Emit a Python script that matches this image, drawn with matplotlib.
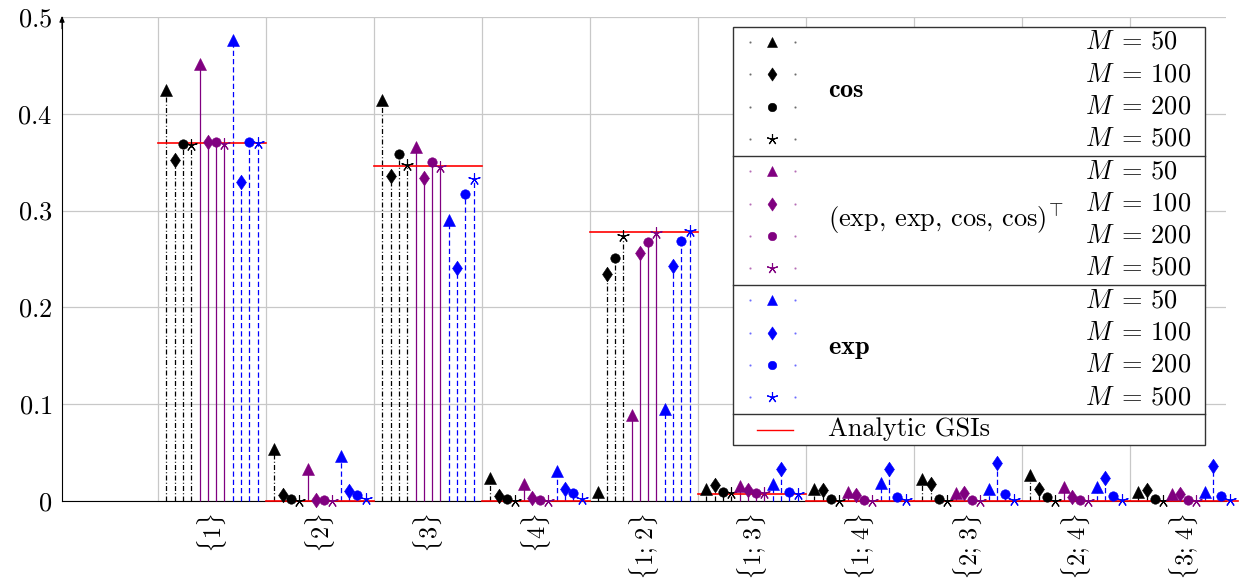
import matplotlib
matplotlib.use("Agg")
import matplotlib.pyplot as plt
from matplotlib.lines import Line2D
from matplotlib.patches import Rectangle
from matplotlib.path import Path
import numpy as np

plt.rcParams['mathtext.fontset'] = 'cm'
plt.rcParams['font.family'] = ['cmr10', 'DejaVu Serif']
plt.rcParams['axes.unicode_minus'] = False

categories = [r'$\{1\}$', r'$\{2\}$', r'$\{3\}$', r'$\{4\}$', r'$\{1;\,2\}$', r'$\{1;\,3\}$',
              r'$\{1;\,4\}$', r'$\{2;\,3\}$', r'$\{2;\,4\}$', r'$\{3;\,4\}$']

cos_m50 = [0.425, 0.054, 0.414, 0.024, 0.009, 0.012, 0.012, 0.023, 0.027, 0.009]
cos_m100 = [0.352, 0.006, 0.336, 0.0055, 0.235, 0.017, 0.011, 0.018, 0.012, 0.011]
cos_m200 = [0.369, 0.002, 0.358, 0.002, 0.251, 0.0096, 0.002, 0.002, 0.004, 0.002]
cos_m500 = [0.368, 0.0003, 0.347, 0.0003, 0.274, 0.008, 0.0003, 0.0003, 0.0003, 0.0003]
mix_m50 = [0.451, 0.033, 0.366, 0.018, 0.089, 0.016, 0.0096, 0.008, 0.014, 0.0072]
mix_m100 = [0.371, 0.001, 0.334, 0.003, 0.2565, 0.0114, 0.006, 0.008, 0.0045, 0.0072]
mix_m200 = [0.371, 0.001, 0.350, 0.001, 0.268, 0.0086, 0.001, 0.001, 0.001, 0.001]
mix_m500 = [0.369, 0.0, 0.345, 0.0, 0.277, 0.008, 0.0, 0.0, 0.0, 0.0]
exp_m50 = [0.476, 0.0465, 0.290, 0.031, 0.095, 0.0176, 0.019, 0.0124, 0.014, 0.009]
exp_m100 = [0.330, 0.0103, 0.241, 0.012, 0.243, 0.033, 0.0327, 0.0396, 0.024, 0.036]
exp_m200 = [0.371, 0.0062, 0.317, 0.008, 0.269, 0.0096, 0.0045, 0.0072, 0.005, 0.005]
exp_m500 = [0.370, 0.0017, 0.333, 0.002, 0.279, 0.0072, 0.001, 0.001, 0.001, 0.001]
analytic = [0.370, 0.0, 0.346, 0.0, 0.278, 0.0072, 0.0, 0.0, 0.0, 0.0]

m_labels = [r'$M\;=\,50$', r'$M\;=\,100$', r'$M\;=\,200$', r'$M\;=\,500$']
group_labels = [r'$\mathbf{cos}$',
                r'$(\mathrm{exp},\,\mathrm{exp},\,\mathrm{cos},\,\mathrm{cos})^{\!\top}$',
                r'$\mathbf{exp}$']
analytic_label = 'Analytic GSIs'

FS = 19
FSX = 17.5
W, H = 1244, 584
fig = plt.figure(figsize=(W / 100, H / 100), dpi=100)
ax = fig.add_axes([62 / W, 1 - 501 / H, (1226 - 62) / W, (501 - 17) / H])

diamond = Path([(0, 1), (0.68, 0), (0, -1), (-0.68, 0), (0, 1)],
               [Path.MOVETO, Path.LINETO, Path.LINETO, Path.LINETO, Path.CLOSEPOLY])

groups = [
    ('black', (0, (4.0, 1.8, 0.8, 1.8)), [cos_m50, cos_m100, cos_m200, cos_m500]),
    ('#800080', '-', [mix_m50, mix_m100, mix_m200, mix_m500]),
    ('#0000ff', (0, (4.2, 2.4)), [exp_m50, exp_m100, exp_m200, exp_m500]),
]
markers = ['^', diamond, 'o', (5, 2, 0)]
msizes = [8.3, 10.5, 6.8, 8.8]

n = len(categories)
base = np.arange(1, n + 1)
j = 0
for color, ls, series in groups:
    for s, mk, ms in zip(series, markers, msizes):
        xs = base + (j + 1) / 13.0
        ax.vlines(xs, 0, s, colors=color, linestyles=ls, linewidth=0.9, clip_on=False, zorder=3)
        ax.plot(xs, s, linestyle='none', marker=mk, color=color, markersize=ms,
                markeredgewidth=0.8 if isinstance(mk, tuple) else 0.4, clip_on=False, zorder=5)
        j += 1

for k, v in zip(base, analytic):
    ax.plot([k, k + 1], [v, v], color='#ff0000', linewidth=1.2, clip_on=False, zorder=4)

ax.set_xlim(1 - 96 / 108, 10 + 96 / 108)
ax.set_ylim(0, 0.5)
ax.set_xticks(base)
ax.set_xticklabels([])
ax.set_xticks(base + 0.5, minor=True)
ax.set_xticklabels(categories, minor=True, rotation=90, fontsize=FSX, va='top', ha='center')
yt = np.arange(0, 0.51, 0.1)
ax.set_yticks(yt)
ax.set_yticklabels(['$0$'] + ['$%.1f$' % v for v in yt[1:]], fontsize=FS)
ax.tick_params(axis='x', which='both', length=0, pad=9)
ax.tick_params(axis='y', length=0, pad=7)
ax.grid(True, which='major', color='#c8c8c8', linewidth=0.9)
ax.set_axisbelow(True)
for sp in ['top', 'right']:
    ax.spines[sp].set_visible(False)
ax.spines['left'].set_linewidth(0.8)
ax.spines['bottom'].set_linewidth(0.8)
ax.spines['bottom'].set_zorder(2)
ax.annotate('', xy=(0, 1.008), xycoords='axes fraction', xytext=(0, 0.97),
            arrowprops=dict(arrowstyle='-|>,head_length=0.35,head_width=0.15', color='black', lw=0.8))


# ---- legend (drawn manually, pixel layout) ----
def fx(px):
    return px / W


def fy(py):
    return 1 - py / H


lx0, lx1, ly0, ly1 = 733, 1205, 27, 445
fig.add_artist(Rectangle((fx(lx0), fy(ly1)), fx(lx1) - fx(lx0), fy(ly0) - fy(ly1),
                         transform=fig.transFigure, facecolor='white', edgecolor='#333333',
                         linewidth=1.0, zorder=10))
row_h = 32.3
row0 = 42
for gi, (color, ls, series) in enumerate(groups):
    rows = [row0 + (gi * 4 + r) * row_h for r in range(4)]
    for r, (mk, ms) in enumerate(zip(markers, msizes)):
        y = fy(rows[r])
        fig.add_artist(Line2D([fx(750), fx(795)], [y, y], transform=fig.transFigure,
                              linestyle='none', marker='.', markersize=1.2, color=color,
                              alpha=0.5, zorder=11))
        fig.add_artist(Line2D([fx(772)], [y], transform=fig.transFigure, linestyle='none',
                              marker=mk, markersize=ms * 0.9, color=color,
                              markeredgewidth=0.8 if isinstance(mk, tuple) else 0.4, zorder=11))
        fig.text(fx(1085), y, m_labels[r], fontsize=FS, ha='left', va='center', zorder=12)
    fig.text(fx(828), fy((rows[0] + rows[3]) / 2), group_labels[gi], fontsize=FS,
             ha='left', va='center', zorder=12)
    sep = rows[3] + row_h / 2 + 0.5
    fig.add_artist(Line2D([fx(lx0), fx(lx1)], [fy(sep), fy(sep)], transform=fig.transFigure,
                          color='#333333', linewidth=1.0, zorder=11))
ya = fy(row0 + 12 * row_h)
fig.add_artist(Line2D([fx(757), fx(793)], [ya, ya], transform=fig.transFigure,
                      color='#ff0000', linewidth=1.0, zorder=11))
fig.text(fx(828), ya, analytic_label, fontsize=FS, ha='left', va='center', zorder=12)

fig.savefig('out.png', dpi=100)
